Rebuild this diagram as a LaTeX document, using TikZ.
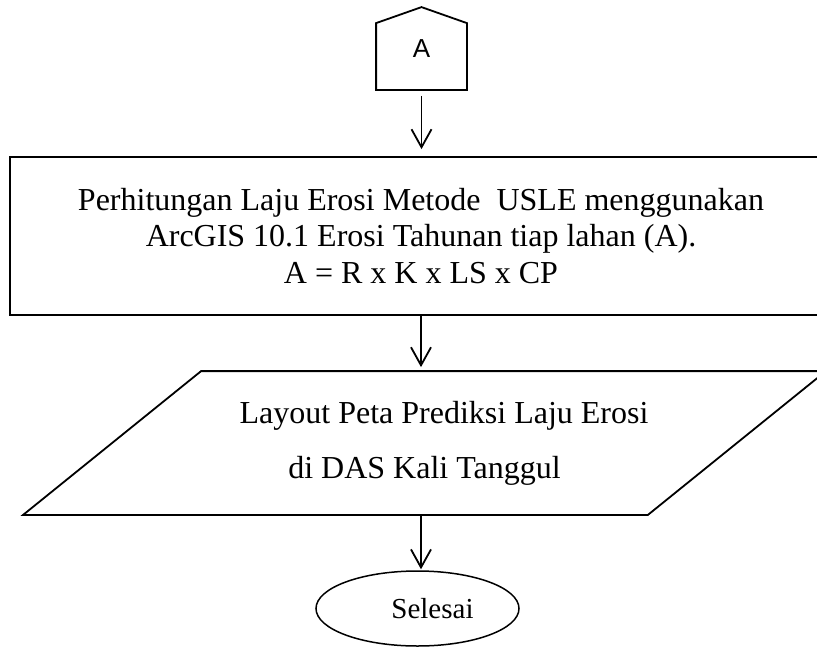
\documentclass[tikz,border=0pt]{standalone}
\usepackage{fontspec}
\setmainfont{Liberation Serif}
\newfontfamily\arialfont{Liberation Sans}
\usetikzlibrary{arrows.meta,shapes.geometric,calc}
\begin{document}
\begin{tikzpicture}[x=1pt,y=-1pt, line width=1.8pt,
  flow/.style={-{Straight Barb[length=18pt,width=20pt]}, line width=1.8pt},
  txt/.style={font=\fontsize{32}{36.5}\selectfont, align=center, inner sep=0pt},
]
\useasboundingbox (0,0) rectangle (817,649);
\fill[white] (0,0) rectangle (817,649);
\begin{scope}
\clip (0,0) rectangle (817,649);

% off-page connector "A"
\node[minimum width=89pt, minimum height=81pt, inner sep=0pt,
      font=\arialfont\fontsize{26}{30}\selectfont] (conn) at (421.5,48.5) {\raisebox{-4pt}{A}};
\draw (conn.south west) -- ($(conn.north west)+(0,16)$) -- (conn.north)
      -- ($(conn.north east)+(0,16)$) -- (conn.south east) -- cycle;

% process box
\node[draw, txt, minimum width=822pt, minimum height=158pt] (calc) at (421,236)
  {Perhitungan Laju Erosi Metode\ \ USLE menggunakan\\
   ArcGIS 10.1 Erosi Tahunan tiap lahan (A).\\
   A = R x K x LS x CP};

% output parallelogram
\node[txt, font=\fontsize{32}{55}\selectfont, minimum width=801pt, minimum height=142pt] (map) at (424.5,443)
  {\hspace*{39pt}Layout Peta Prediksi Laju Erosi\\ di DAS Kali Tanggul};
\draw (map.south west) -- ($(map.north west)+(178,0)$) -- (map.north east)
      -- ($(map.south east)-(178,0)$) -- cycle;

% terminator
\node[draw, ellipse, line width=1.5pt, minimum width=203pt, minimum height=75pt, inner sep=0pt,
      font=\fontsize{29}{33}\selectfont] (stop) at (417.5,608.5) {\hspace*{30pt}Selesai};

% connectors
\draw[flow, shorten <=6pt, shorten >=7pt] (conn.south) -- (conn.south |- calc.north);
\draw[flow, shorten >=4pt] (calc.south) -- (calc.south |- map.north);
\draw[flow, shorten >=1pt] (calc.south |- map.south) -- (calc.south |- stop.north);
\end{scope}
\end{tikzpicture}
\end{document}
